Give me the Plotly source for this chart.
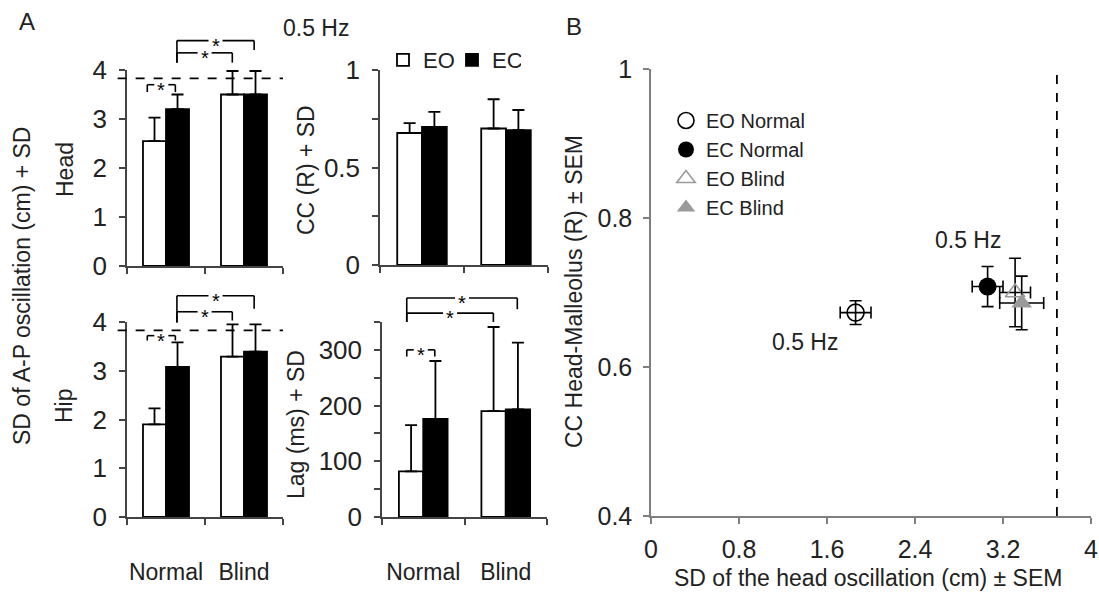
import plotly.graph_objects as go

W, H = 1099, 594
FONT = "Liberation Sans, Arial, sans-serif"
TXT = "#222222"

# ---------------- data ----------------
groups = ["Normal", "Blind"]
gx = [0, 1]

head_eo = [2.55, 3.50]
head_eo_sd = [0.48, 0.48]
head_ec = [3.20, 3.50]
head_ec_sd = [0.30, 0.48]

hip_eo = [1.90, 3.29]
hip_eo_sd = [0.33, 0.66]
hip_ec = [3.08, 3.39]
hip_ec_sd = [0.50, 0.56]

cc_eo = [0.677, 0.700]
cc_eo_sd = [0.051, 0.150]
cc_ec = [0.708, 0.692]
cc_ec_sd = [0.077, 0.103]

lag_eo = [82, 190]
lag_eo_sd = [83, 151]
lag_ec = [176, 193]
lag_ec_sd = [104, 120]

ref_level = 3.83  # dashed line in Head / Hip panels

b_names = ["EO Normal", "EC Normal", "EO Blind", "EC Blind"]
b_x = [1.86, 3.06, 3.31, 3.37]
b_xerr = [0.14, 0.14, 0.14, 0.20]
b_y = [0.673, 0.708, 0.700, 0.686]
b_yerr = [0.016, 0.027, 0.046, 0.036]
b_vline = 3.69

# significance brackets: (x_left, x_right, y_top, y_left_end, y_right_end)
head_brackets = [(-0.24, 0.12, 3.70, 3.55, 3.55),
                 (0.14, 0.85, 4.35, 4.15, 4.15),
                 (0.14, 1.13, 4.60, 4.15, 4.41)]
hip_brackets = [(-0.24, 0.12, 3.72, 3.62, 3.62),
                (0.14, 0.85, 4.21, 3.99, 4.03),
                (0.14, 1.13, 4.54, 3.99, 4.27)]
lag_brackets = [(-0.20, 0.14, 300, 288, 288),
                (-0.20, 0.85, 366, 350, 350),
                (-0.20, 1.14, 393, 350, 373)]

# ---------------- layout helpers ----------------
def dx(a, b):
    return [a / W, b / W]

def dy(top, bottom):
    return [1 - bottom / H, 1 - top / H]

dom = {
    "head": (dx(127, 283), dy(70, 266)),
    "cc": (dx(380, 548), dy(70, 265)),
    "hip": (dx(127, 283), dy(322, 517)),
    "lag": (dx(382, 547), dy(322, 517)),
    "b": (dx(651, 1091), dy(69, 516)),
}

fig = go.Figure()

panels = [
    ("head", "", (head_eo, head_eo_sd, head_ec, head_ec_sd), True),
    ("cc", "2", (cc_eo, cc_eo_sd, cc_ec, cc_ec_sd), False),
    ("hip", "3", (hip_eo, hip_eo_sd, hip_ec, hip_ec_sd), False),
    ("lag", "4", (lag_eo, lag_eo_sd, lag_ec, lag_ec_sd), False),
]

for key, sfx, (eo, eo_sd, ec, ec_sd), show in panels:
    for name, vals, sd, fill in [("EO", eo, eo_sd, "white"), ("EC", ec, ec_sd, "black")]:
        fig.add_trace(go.Bar(
            x=gx, y=vals, name=name, legend="legend2", showlegend=show,
            xaxis="x" + sfx, yaxis="y" + sfx,
            marker=dict(color=fill, line=dict(color="black", width=1.8)),
            error_y=dict(type="data", symmetric=False, array=sd,
                         arrayminus=[0] * len(sd), color="black",
                         thickness=1.8, width=6),
        ))

b_styles = [
    dict(symbol="circle-open", color="black", size=17, line=dict(width=1.6, color="black")),
    dict(symbol="circle", color="black", size=18),
    dict(symbol="triangle-up-open", color="#9a9a9a", size=17, line=dict(width=1.6, color="#9a9a9a")),
    dict(symbol="triangle-up", color="#9a9a9a", size=18),
]
for i, nm in enumerate(b_names):
    fig.add_trace(go.Scatter(
        x=[b_x[i]], y=[b_y[i]], mode="markers", name=nm, legend="legend",
        xaxis="x5", yaxis="y5", marker=b_styles[i],
        error_x=dict(type="data", array=[b_xerr[i]], color="black", thickness=1.6, width=6),
        error_y=dict(type="data", array=[b_yerr[i]], color="black", thickness=1.6, width=6),
    ))

AX = "#444444"

def a_xaxis(key, sfx, labels):
    return dict(domain=dom[key][0], anchor="y" + sfx, range=[-0.5, 1.5], automargin=False,
                showline=True, linecolor=AX, linewidth=1.5,
                tickvals=gx, ticktext=groups, ticks="", showticklabels=labels,
                ticklabelstandoff=34, tickfont=dict(size=23, color=TXT),
                minor=dict(tickvals=[-0.5, 0.5, 1.5], ticks="outside", ticklen=6,
                           tickcolor=AX, tickwidth=1.5),
                showgrid=False, zeroline=False, fixedrange=True)

def a_yaxis(key, sfx, rng, tickvals, minor_vals):
    return dict(domain=dom[key][1], anchor="x" + sfx, range=rng, automargin=False,
                showline=True, linecolor=AX, linewidth=1.5,
                tickvals=tickvals, ticks="outside", ticklen=6, tickcolor=AX, tickwidth=1.5,
                ticklabelstandoff=7, tickfont=dict(size=26, color=TXT),
                minor=dict(tickvals=minor_vals, ticks="outside", ticklen=6,
                           tickcolor=AX, tickwidth=1.5) if minor_vals else None,
                showgrid=False, zeroline=False, fixedrange=True)

layout = dict(
    template="none",
    width=W, height=H, margin=dict(l=0, r=0, t=0, b=0, autoexpand=False),
    paper_bgcolor="white", plot_bgcolor="white",
    font=dict(family=FONT, size=23, color=TXT),
    barmode="group", bargap=0.41, bargroupgap=0,
    xaxis=a_xaxis("head", "", False),
    yaxis=a_yaxis("head", "", [0, 4], [0, 1, 2, 3, 4], None),
    xaxis2=a_xaxis("cc", "2", False),
    yaxis2=a_yaxis("cc", "2", [0, 1], [0, 0.5, 1], [0.25, 0.75]),
    xaxis3=a_xaxis("hip", "3", True),
    yaxis3=a_yaxis("hip", "3", [0, 4], [0, 1, 2, 3, 4], None),
    xaxis4=a_xaxis("lag", "4", True),
    yaxis4=a_yaxis("lag", "4", [0, 350], [0, 100, 200, 300], [50, 150, 250, 350]),
    xaxis5=dict(domain=dom["b"][0], anchor="y5", range=[0, 4], automargin=False,
                tickvals=[0, 0.8, 1.6, 2.4, 3.2, 4],
                ticktext=["0", "0.8", "1.6", "2.4", "3.2", "4"],
                showline=True, linecolor="#808080", linewidth=1.5,
                ticks="outside", ticklen=6, tickcolor="#808080", tickwidth=1.5,
                ticklabelstandoff=4, tickfont=dict(size=25, color=TXT),
                showgrid=False, zeroline=False, fixedrange=True),
    yaxis5=dict(domain=dom["b"][1], anchor="x5", range=[0.4, 1], automargin=False,
                tickvals=[0.4, 0.6, 0.8, 1], ticktext=["0.4", "0.6", "0.8", "1"],
                showline=True, linecolor="#808080", linewidth=1.5,
                ticks="outside", ticklen=6, tickcolor="#808080", tickwidth=1.5,
                ticklabelstandoff=6, tickfont=dict(size=25, color=TXT),
                showgrid=False, zeroline=False, fixedrange=True),
    legend=dict(x=666 / W, y=1 - 101 / H, xanchor="left", yanchor="top",
                bgcolor="rgba(0,0,0,0)", font=dict(size=20, color=TXT),
                tracegroupgap=0, itemclick=False, itemdoubleclick=False),
    legend2=dict(orientation="h", x=383 / W, y=1 - 39 / H, xanchor="left", yanchor="top",
                 bgcolor="rgba(0,0,0,0)", font=dict(size=22, color=TXT),
                 entrywidth=24, entrywidthmode="pixels",
                 itemclick=False, itemdoubleclick=False),
    showlegend=True,
)
fig.update_layout(**layout)

shapes = []
annotations = []

# dashed reference lines (Head, Hip)
for sfx in ["", "3"]:
    shapes.append(dict(type="line", xref="x" + sfx + " domain", yref="y" + sfx + " domain",
                       x0=-0.06, x1=1.0, y0=ref_level / 4, y1=ref_level / 4,
                       line=dict(color="black", width=1.8, dash="dash")))

# dashed vertical line in B
shapes.append(dict(type="line", xref="x5", yref="y5 domain", x0=b_vline, x1=b_vline,
                   y0=0, y1=1, line=dict(color="black", width=1.8, dash="dash")))

def add_brackets(sfx, key, ymax, brackets):
    wpx = (dom[key][0][1] - dom[key][0][0]) * W
    gap = 7 / wpx
    xr = "x" + sfx + " domain"
    yr = "y" + sfx + " domain"
    for (xl, xrt, yt, yle, yre) in brackets:
        a = (xl + 0.5) / 2
        b = (xrt + 0.5) / 2
        s = (a + b) / 2
        t = yt / ymax
        ln = dict(color="black", width=1.6)
        shapes.append(dict(type="line", xref=xr, yref=yr, x0=a, x1=a, y0=yle / ymax, y1=t, line=ln))
        shapes.append(dict(type="line", xref=xr, yref=yr, x0=a, x1=s - gap, y0=t, y1=t, line=ln))
        shapes.append(dict(type="line", xref=xr, yref=yr, x0=s + gap, x1=b, y0=t, y1=t, line=ln))
        shapes.append(dict(type="line", xref=xr, yref=yr, x0=b, x1=b, y0=t, y1=yre / ymax, line=ln))
        annotations.append(dict(text="*", xref=xr, yref=yr, x=s, y=t, showarrow=False,
                                xanchor="center", yanchor="middle", yshift=-5,
                                font=dict(size=20, color="black")))

add_brackets("", "head", 4, head_brackets)
add_brackets("3", "hip", 4, hip_brackets)
add_brackets("4", "lag", 350, lag_brackets)

def txt(text, px, py, size=23, angle=0):
    annotations.append(dict(text=text, xref="paper", yref="paper", x=px / W, y=1 - py / H,
                            showarrow=False, xanchor="center", yanchor="middle",
                            textangle=angle, font=dict(size=size, color=TXT)))

txt("A", 27, 22, 24)
txt("B", 574, 27, 24)
txt("0.5 Hz", 316, 28)
txt("SD of A-P oscillation (cm) + SD", 22, 286, 23, -90)
txt("Head", 65, 170, 23, -90)
txt("Hip", 64, 406, 23, -90)
txt("CC (R) + SD", 306, 170, 23, -90)
txt("Lag (ms) + SD", 296, 425, 23, -90)
txt("CC Head-Malleolus (R) ± SEM", 574, 292, 23, -90)
txt("SD of the head oscillation (cm) ± SEM", 868, 578, 23)

# "0.5 Hz" labels inside panel B
annotations.append(dict(text="0.5 Hz", xref="x5", yref="y5", x=1.40, y=0.633, showarrow=False,
                        xanchor="center", yanchor="middle", font=dict(size=23, color=TXT)))
annotations.append(dict(text="0.5 Hz", xref="x5", yref="y5", x=2.88, y=0.771, showarrow=False,
                        xanchor="center", yanchor="middle", font=dict(size=23, color=TXT)))

fig.update_layout(shapes=shapes, annotations=annotations)
fig.write_html("out.html", config={"displayModeBar": False},
               post_script="document.body.style.margin='0';document.body.style.overflow='hidden';")
